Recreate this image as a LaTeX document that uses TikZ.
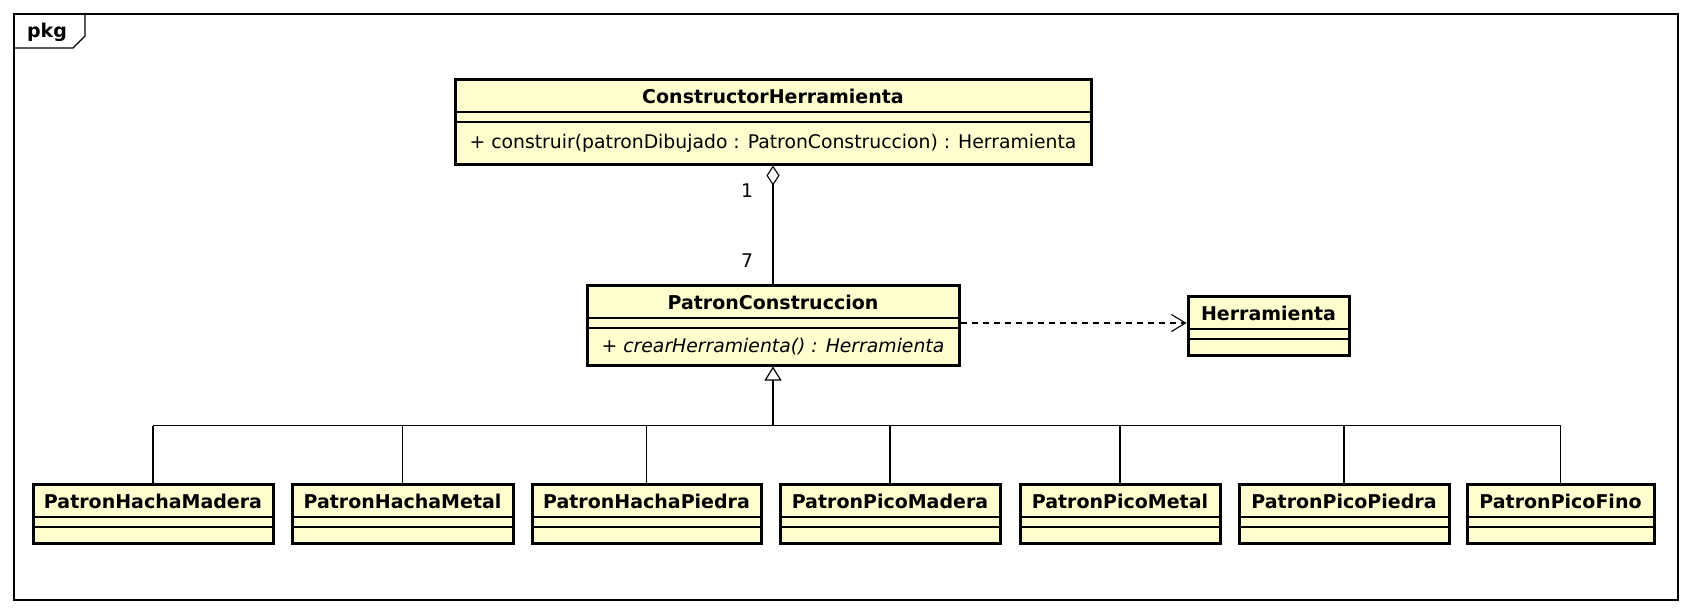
\documentclass[tikz,border=0pt]{standalone}
\usepackage{fontspec}
\setmainfont{DejaVu Sans}
\usetikzlibrary{arrows.meta,positioning,calc,fit}
\definecolor{umlfill}{HTML}{FEFECE}
\tikzset{
  umlbox/.style={draw=black, line width=3pt, fill=umlfill, inner sep=0pt},
  umlsep/.style={line width=1.3pt},
  umltitle/.style={font=\bfseries\fontsize{19}{22}\selectfont, inner sep=0pt},
  umltext/.style={font=\fontsize{18.8}{22}\selectfont, inner sep=0pt},
  umllabel/.style={font=\fontsize{18.8}{22}\selectfont, inner sep=0pt},
  umlline/.style={line width=1.1pt},
}
\newcommand{\UMLClass}[7][]{% #1=operation (optional), #2=name, #3=left, #4=top, #5=right, #6=bottom, #7=title
  \coordinate (#2-nw) at (#3,#4);
  \coordinate (#2-se) at (#5,#6);
  \node[umlbox, fit=(#2-nw)(#2-se)] (#2) {};
  \node[umltitle] (#2-title) at ({(#3+#5)/2},{#4+17}) {#7};
  \draw[umlsep] (#3,{#4+33}) -- (#5,{#4+33});
  \draw[umlsep] (#3,{#4+43}) -- (#5,{#4+43});
  \if\relax\detokenize{#1}\relax\else
    \node[umltext] (#2-op) at ({(#3+#5)/2},{(#4+43+#6)/2}) {#1};
  \fi
}

\begin{document}
\begin{tikzpicture}[x=1pt, y=-1pt]
    \useasboundingbox (0,0) rectangle (1690,614);
    % ---- package frame
    \draw[line width=1.3pt] (14,14) rectangle (1678,600);
    \draw[line width=1.3pt] (14,48) -- (73,48) -- (85,36) -- (85,14);
    \node[umltitle] (pkg) at (47,32) {pkg};

    \UMLClass[+ construir(patronDibujado : PatronConstruccion) : Herramienta]{constructor}{455}{79}{1091}{164}{ConstructorHerramienta}
    \UMLClass[\itshape + crearHerramienta() : Herramienta]{patron}{587}{285}{959}{365}{PatronConstruccion}
    \UMLClass{herramienta}{1188}{296}{1349}{355}{Herramienta}

    \foreach \n/\l/\r/\t in {hMadera/33/273/PatronHachaMadera, hMetal/292/513/PatronHachaMetal,
        hPiedra/532/761/PatronHachaPiedra, pMadera/780/1000/PatronPicoMadera,
        pMetal/1020/1220/PatronPicoMetal, pPiedra/1239/1449/PatronPicoPiedra,
        pFino/1467/1654/PatronPicoFino}{
      \UMLClass{\n}{\l}{484}{\r}{543}{\t}
    }

    % ---- aggregation
    \draw[umlline, {Diamond[open, length=20pt, width=13pt]}-] (constructor.south) -- (patron.north);
    \node[umllabel] (m1) at ($(constructor.south)+(-26,25)$) {1};
    \node[umllabel] (m7) at ($(patron.north)+(-26,-23)$) {7};

    % ---- dependency
    \draw[umlline, dash pattern=on 6pt off 5pt, -{Straight Barb[length=14pt, width=17pt]}]
      ($(patron.east)+(0,-2)$) -- ($(patron.east -| herramienta.west)+(0,-2)$);

    % ---- generalization
    \coordinate (bus) at ($(patron.south)+(0,59)$);
    \draw[umlline, line width=2pt, {Triangle[open, length=14pt, width=17pt, line width=1.2pt]}-] (patron.south) -- (bus);
    \draw[umlline] (bus -| hMadera.north) -- (bus -| pFino.north);
    \foreach \n in {hMadera,hMetal,hPiedra,pMadera,pMetal,pPiedra,pFino}{
      \draw[umlline] (bus -| \n.north) -- (\n.north);
    }
\end{tikzpicture}
\end{document}
